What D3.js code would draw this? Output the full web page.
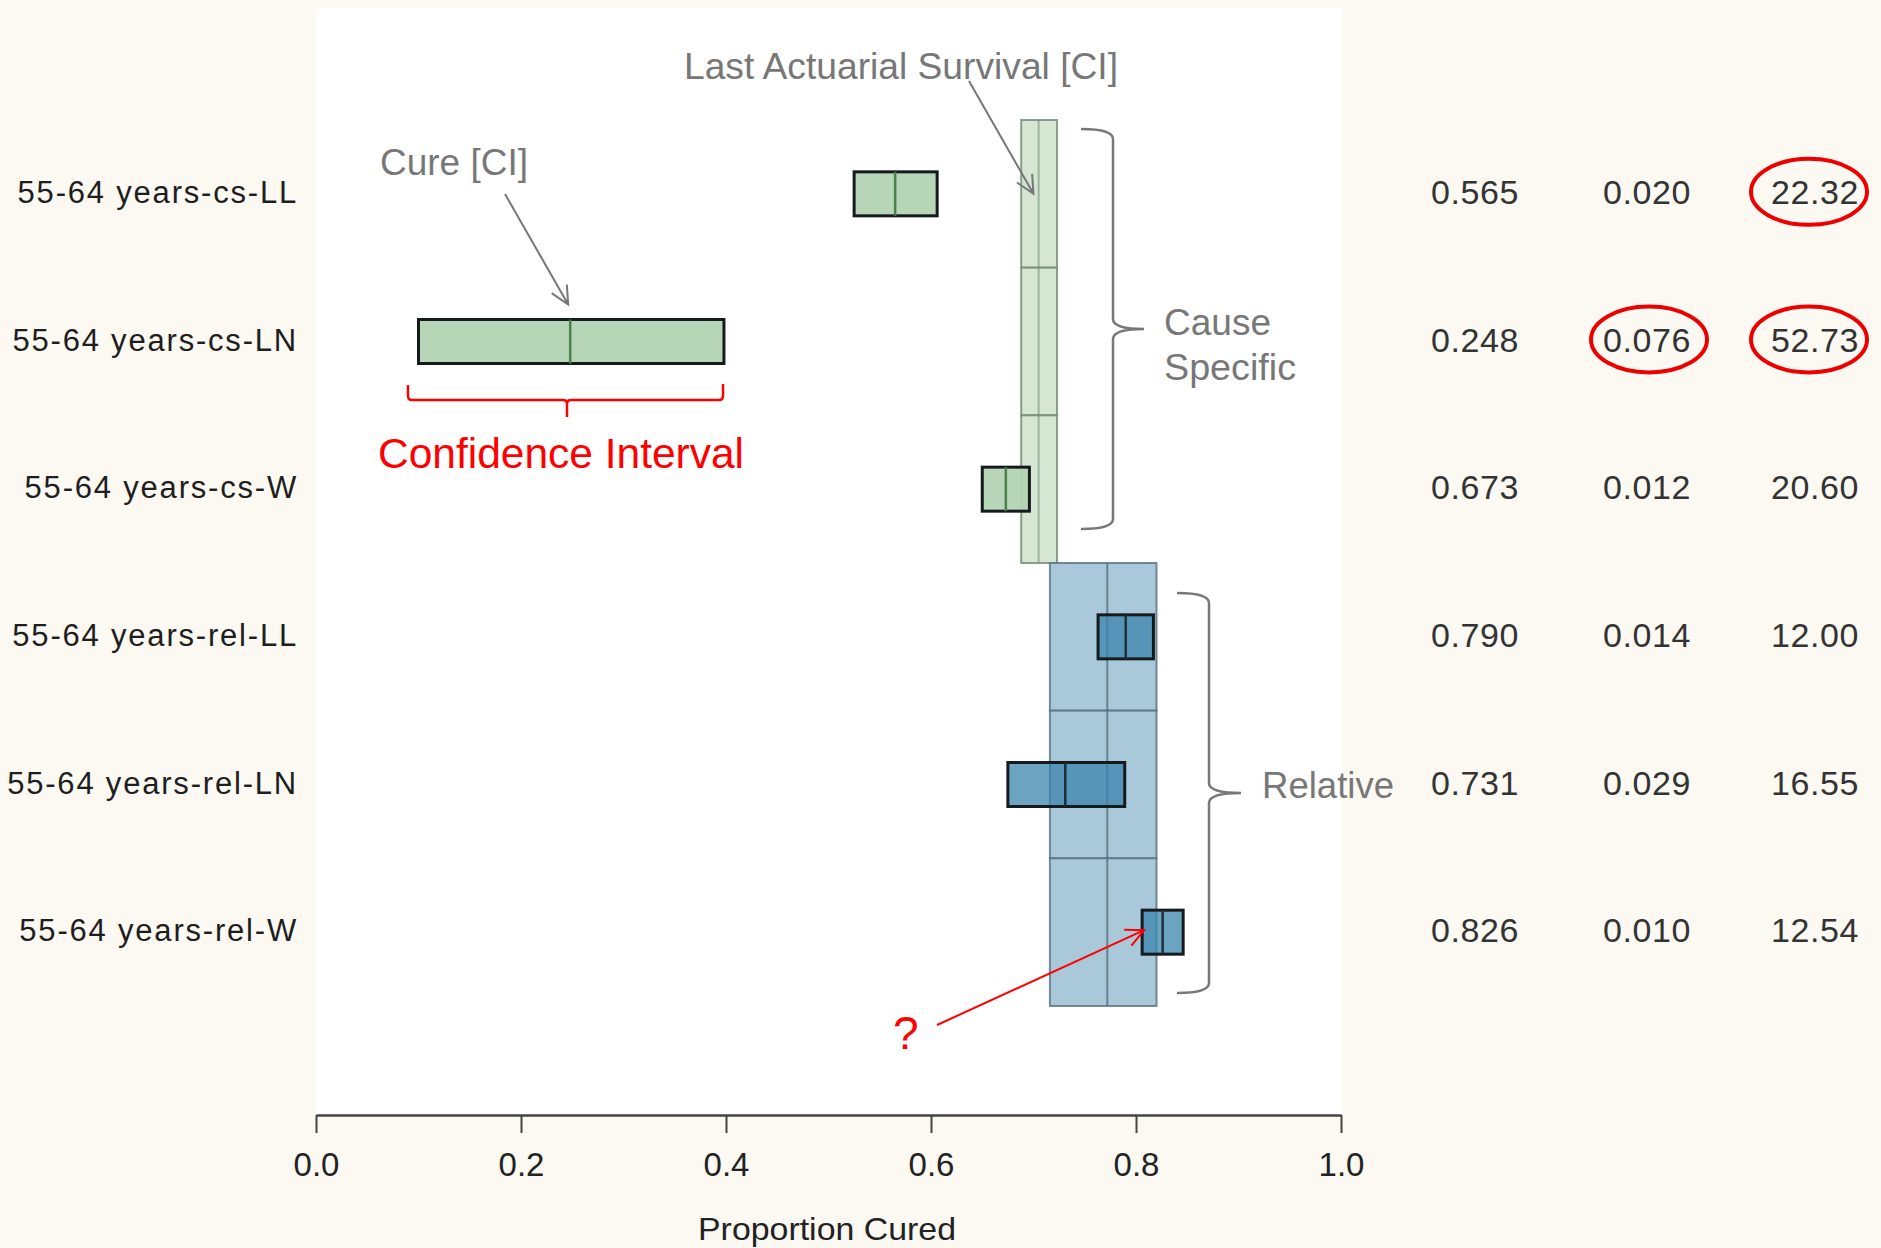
<!DOCTYPE html>
<html>
<head>
<meta charset="utf-8">
<script src="https://cdn.jsdelivr.net/npm/d3@7"></script>
<style>
  body { margin: 0; background: #fcf9f2; }
  svg { display: block; font-family: "Liberation Sans", Arial, sans-serif; }
</style>
</head>
<body>
<svg id="chart"></svg>
<script>
// rows of the forest plot
const rowLabels = ["55-64 years-cs-LL", "55-64 years-cs-LN", "55-64 years-cs-W",
                   "55-64 years-rel-LL", "55-64 years-rel-LN", "55-64 years-rel-W"];
const rowGroup = ["cs", "cs", "cs", "rel", "rel", "rel"];

// cure proportion with its CI
const cureEst = [0.565, 0.248, 0.673, 0.790, 0.731, 0.826];
const cureLo  = [0.525, 0.100, 0.650, 0.763, 0.675, 0.806];
const cureHi  = [0.606, 0.398, 0.696, 0.817, 0.789, 0.846];
const cureSE  = [0.020, 0.076, 0.012, 0.014, 0.029, 0.010];
const medianTime = [22.32, 52.73, 20.60, 12.00, 16.55, 12.54];

// last actuarial survival with its CI
const survLo  = [0.688, 0.688, 0.688, 0.716, 0.716, 0.716];
const survMed = [0.705, 0.705, 0.705, 0.772, 0.772, 0.772];
const survHi  = [0.723, 0.723, 0.723, 0.820, 0.820, 0.820];

const xTicks = [0, 0.2, 0.4, 0.6, 0.8, 1.0];
// table cells circled in red: [row, column]
const circled = [[0, 2], [1, 1], [1, 2]];

const W = 1881, H = 1248;
const svg = d3.select("#chart").attr("width", W).attr("height", H);

const colors = {
  cs:  { col: "#d5e6d3", colLine: "#6f8a6f", box: "#b3d3b3", boxOp: 0.95, med: "#4e7d4e" },
  rel: { col: "#a9c8d9", colLine: "#55707e", box: "rgb(59,132,171)", boxOp: 0.75, med: "#1c2f3a" }
};
const grey = "#777";

const x = d3.scaleLinear().domain([0, 1]).range([316, 1341]);
const y = d3.scaleBand().domain(rowLabels).range([120, 1006]).padding(0);
const bw = y.bandwidth();
const mid = i => y(rowLabels[i]) + bw / 2;
const boxH = 44;

// white plot panel
svg.append("rect").attr("x", 316).attr("y", 8).attr("width", 1026).attr("height", 1106).attr("fill", "#fff");

const idx = d3.range(rowLabels.length);

// actuarial survival columns
const sv = svg.append("g");
sv.selectAll("rect").data(idx).join("rect")
  .attr("x", i => x(survLo[i]))
  .attr("y", i => y(rowLabels[i]))
  .attr("width", i => x(survHi[i]) - x(survLo[i]))
  .attr("height", bw)
  .attr("fill", i => colors[rowGroup[i]].col)
  .attr("stroke", i => colors[rowGroup[i]].colLine)
  .attr("stroke-opacity", 0.8)
  .attr("stroke-width", 2);
sv.selectAll("line").data(idx).join("line")
  .attr("x1", i => x(survMed[i])).attr("x2", i => x(survMed[i]))
  .attr("y1", i => y(rowLabels[i])).attr("y2", i => y(rowLabels[i]) + bw)
  .attr("stroke", i => colors[rowGroup[i]].colLine)
  .attr("stroke-opacity", i => rowGroup[i] == "cs" ? 0.55 : 0.8)
  .attr("stroke-width", 2);

// cure boxes
const cb = svg.append("g");
cb.selectAll("rect").data(idx).join("rect")
  .attr("x", i => x(cureLo[i]))
  .attr("y", i => mid(i) - boxH / 2)
  .attr("width", i => x(cureHi[i]) - x(cureLo[i]))
  .attr("height", boxH)
  .attr("fill", i => colors[rowGroup[i]].box)
  .attr("fill-opacity", i => colors[rowGroup[i]].boxOp)
  .attr("stroke", "#141a1e")
  .attr("stroke-width", 3);
cb.selectAll("line").data(idx).join("line")
  .attr("x1", i => x(cureEst[i])).attr("x2", i => x(cureEst[i]))
  .attr("y1", i => mid(i) - boxH / 2).attr("y2", i => mid(i) + boxH / 2)
  .attr("stroke", i => colors[rowGroup[i]].med)
  .attr("stroke-width", 2.5);

// x axis
const axis = svg.append("g").attr("transform", "translate(0,1115)")
  .call(d3.axisBottom(x).tickValues(xTicks).tickFormat(d3.format(".1f"))
    .tickSize(18).tickSizeOuter(0).tickPadding(20));
axis.select(".domain").attr("stroke", "#444").attr("stroke-width", 2.5);
axis.selectAll(".tick line").attr("stroke", "#444").attr("stroke-width", 2);
axis.selectAll(".tick text").attr("font-size", 33).attr("fill", "#222")
  .attr("font-family", "'Liberation Sans', Arial, sans-serif");
svg.append("text").attr("x", 698).attr("y", 1240)
  .attr("font-size", 32).attr("fill", "#222")
  .attr("textLength", 258).attr("lengthAdjust", "spacingAndGlyphs").text("Proportion Cured");

// row labels
svg.append("g").selectAll("text").data(idx).join("text")
  .attr("x", 298).attr("y", i => mid(i) + 9)
  .attr("text-anchor", "end").attr("font-size", 31).attr("letter-spacing", 1.8)
  .attr("fill", "#1e1e1e").text(i => rowLabels[i]);

// right hand table
const tableCols = [
  { vals: cureEst, fmt: d3.format(".3f"), x: 1431, anchor: "start", cx: 1474 },
  { vals: cureSE, fmt: d3.format(".3f"), x: 1603, anchor: "start", cx: 1649 },
  { vals: medianTime, fmt: d3.format(".2f"), x: 1859, anchor: "end", cx: 1809 }
];
tableCols.forEach(c => {
  svg.append("g").selectAll("text").data(idx).join("text")
    .attr("x", c.x).attr("y", i => mid(i) + 10)
    .attr("text-anchor", c.anchor).attr("font-size", 34).attr("letter-spacing", 0.6)
    .attr("fill", "#333").text(i => c.fmt(c.vals[i]));
});
svg.append("g").selectAll("ellipse").data(circled).join("ellipse")
  .attr("cx", d => tableCols[d[1]].cx).attr("cy", d => mid(d[0]) - 2)
  .attr("rx", 58).attr("ry", 33)
  .attr("fill", "none").attr("stroke", "#e00").attr("stroke-width", 4);

// annotations
function arrow(x1, y1, x2, y2, color, w) {
  const a = Math.atan2(y2 - y1, x2 - x1), L = 20, s = 0.45;
  const p = `M${x1},${y1}L${x2},${y2}` +
    `M${x2 - L * Math.cos(a - s)},${y2 - L * Math.sin(a - s)}L${x2},${y2}` +
    `L${x2 - L * Math.cos(a + s)},${y2 - L * Math.sin(a + s)}`;
  svg.append("path").attr("d", p).attr("fill", "none").attr("stroke", color).attr("stroke-width", w);
}
function brace(xL, xV, xT, top, bot, color) {
  const m = (top + bot) / 2;
  const p = `M${xL},${top}Q${xV},${top} ${xV},${top + 10}V${m - 10}Q${xV},${m} ${xT},${m}` +
    `Q${xV},${m} ${xV},${m + 10}V${bot - 10}Q${xV},${bot} ${xL},${bot}`;
  svg.append("path").attr("d", p).attr("fill", "none").attr("stroke", color).attr("stroke-width", 2.5);
}
function label(t, x0, y0, size, color, len) {
  svg.append("text").attr("x", x0).attr("y", y0).attr("font-size", size).attr("fill", color)
    .attr("textLength", len).attr("lengthAdjust", "spacingAndGlyphs").text(t);
}

label("Last Actuarial Survival [CI]", 684, 79, 36, grey, 434);
arrow(969, 81, x(0.7), mid(0), grey, 2);
label("Cure [CI]", 380, 175, 36, grey, 148);
arrow(505, 194, x(cureEst[1]) - 2, mid(1) - boxH / 2 - 15, grey, 2);

svg.append("path")
  .attr("d", "M408,385V396Q408,400 412,400H563Q567,400 567,404V417M567,404Q567,400 571,400H719Q723,400 723,396V384")
  .attr("fill", "none").attr("stroke", "#f00").attr("stroke-width", 2.5);
label("Confidence Interval", 378, 468, 43, "#f00", 366);

brace(1081, 1113, 1144, 129, 529, grey);
label("Cause", 1164, 335, 37, grey, 107);
label("Specific", 1164, 380, 37, grey, 132);
brace(1177, 1209, 1241, 593, 993, grey);
label("Relative", 1262, 798, 37, grey, 132);

svg.append("text").attr("x", 893).attr("y", 1049).attr("font-size", 46).attr("fill", "#f00").text("?");
arrow(937, 1025, x(cureLo[5]) + 2, mid(5) - 2, "#f00", 2);
</script>
</body>
</html>
